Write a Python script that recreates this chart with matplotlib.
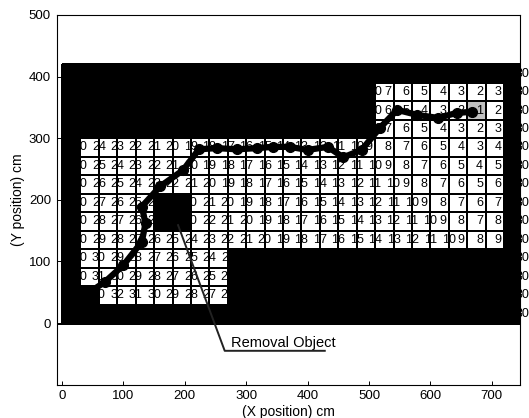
import numpy as np
import matplotlib
matplotlib.use('Agg')
import matplotlib.pyplot as plt

plt.rcParams['font.family'] = ['Liberation Sans', 'DejaVu Sans']

cell = 30
n_cols = 25
# cost values by row, top row first: (first white column, values)
rows = [
    [],
    [(17, [7, 6, 5, 4, 3, 2, 3])],
    [(17, [6, 5, 4, 3, 2, 1, 2])],
    [(17, [7, 6, 5, 4, 3, 2, 3])],
    [(1, [24, 23, 22, 21, 20, 19, 18, 17, 16, 15, 14, 13, 12, 11, 10, 9, 8, 7, 6, 5, 4, 3, 4])],
    [(1, [25, 24, 23, 22, 21, 20, 19, 18, 17, 16, 15, 14, 13, 12, 11, 10, 9, 8, 7, 6, 5, 4, 5])],
    [(1, [26, 25, 24, 23, 22, 21, 20, 19, 18, 17, 16, 15, 14, 13, 12, 11, 10, 9, 8, 7, 6, 5, 6])],
    [(1, [27, 26, 25, 24]), (7, [21, 20, 19, 18, 17, 16, 15, 14, 13, 12, 11, 10, 9, 8, 7, 6, 7])],
    [(1, [28, 27, 26, 25]), (7, [22, 21, 20, 19, 18, 17, 16, 15, 14, 13, 12, 11, 10, 9, 8, 7, 8])],
    [(1, [29, 28, 27, 26, 25, 24, 23, 22, 21, 20, 19, 18, 17, 16, 15, 14, 13, 12, 11, 10, 9, 8, 9])],
    [(1, [30, 29, 28, 27, 26, 25, 24, 23])],
    [(1, [31, 30, 29, 28, 27, 26, 25, 24])],
    [(2, [32, 31, 30, 29, 28, 27, 26])],
    [],
]
hidden_label = 30

path_x = [45, 70, 100, 130, 136, 130, 160, 197, 223, 252, 285, 318, 344, 371, 400, 433, 458, 488, 518, 546, 578, 612, 643, 668]
path_y = [50, 67, 94, 132, 162, 189, 222, 248, 282, 284, 282, 284, 286, 286, 281, 286, 269, 281, 317, 346, 338, 333, 341, 343]

pointer_x = [189, 265, 428]
pointer_y = [159, -45, -45]

n_rows = len(rows)
labels = np.full((n_rows, n_cols), hidden_label)
white = np.zeros((n_rows, n_cols))
for i, row in enumerate(rows):
    for start, vals in row:
        for j, v in enumerate(vals):
            labels[i, start + j] = v
            white[i, start + j] = 1
white[2, 22] = 0.75  # goal cell is shaded

fig = plt.figure(figsize=(5.29, 4.18), dpi=100)
ax = fig.add_axes([56.5 / 529, 1 - 384.7 / 418, (520 - 56.5) / 529, (384.7 - 15) / 418])

xe = np.arange(n_cols + 1) * cell
ye = (n_rows - np.arange(n_rows + 1)) * cell
ax.pcolormesh(xe, ye, white, cmap='gray', vmin=0, vmax=1, edgecolors='black', linewidth=0.35)
ax.axhspan(-3, 0, color='black', lw=0)

for i in range(n_rows):
    for j in range(n_cols):
        v = labels[i, j]
        yc = ye[i] - cell / 2
        if v >= 10:
            xc = xe[j + 1]
        else:
            xc = xe[j] + 0.67 * cell
        ax.text(xc, yc, str(v), ha='center', va='center', fontsize=9, color='black', zorder=3)

ax.plot(path_x, path_y, '-o', color='black', lw=4.5, ms=7, zorder=4)
ax.plot(pointer_x, pointer_y, color='#222222', lw=1.4, zorder=4)
ax.text(275, -32, 'Removal Object', fontsize=10.5, va='center', ha='left')

ax.set_xlim(-9, 746)
ax.set_ylim(-100, 500)
ax.set_xticks(range(0, 701, 100))
ax.set_yticks(range(0, 501, 100))
ax.tick_params(direction='in', length=3, width=0.7, labelsize=9.5, pad=4)
for s in ax.spines.values():
    s.set_linewidth(0.8)
ax.set_xlabel('(X position) cm', fontsize=10, labelpad=2)
ax.set_ylabel('(Y position) cm', fontsize=10, labelpad=3)

fig.savefig('out.png', dpi=100)
